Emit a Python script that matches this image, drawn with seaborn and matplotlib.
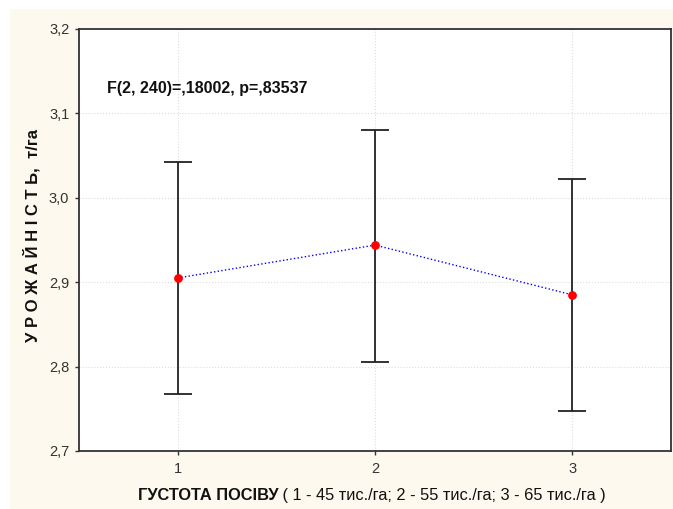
import matplotlib
matplotlib.use("Agg")
import matplotlib.pyplot as plt
from matplotlib.patches import Rectangle
from matplotlib.ticker import FuncFormatter, FixedLocator
import seaborn as sns
import pandas as pd

# Seeding density groups and yield statistics (mean with confidence limits)
density = [1, 2, 3]
mean_yield = [2.905, 2.944, 2.885]
ci_lower = [2.767, 2.805, 2.747]
ci_upper = [3.042, 3.080, 3.022]
y_ticks = [2.7, 2.8, 2.9, 3.0, 3.1, 3.2]
stat_text = "F(2, 240)=,18002, p=,83537"

df = pd.DataFrame({"density": density, "yield": mean_yield})

sns.set_theme(style="white")
plt.rcParams["font.family"] = ["Liberation Sans", "DejaVu Sans"]
narrow = ["Liberation Sans Narrow", "Liberation Sans", "DejaVu Sans"]

fig = plt.figure(figsize=(6.73, 5.09), dpi=100, facecolor="white")
fig.patches.append(Rectangle((10 / 673, 0), 1, (509 - 9) / 509, transform=fig.transFigure,
                             facecolor="#fdf9ee", edgecolor="none", zorder=-10))
ax = fig.add_axes([79 / 673, 58 / 509, 592 / 673, 422 / 509])
ax.set_facecolor("white")

# Confidence intervals
yerr = [[m - lo for m, lo in zip(mean_yield, ci_lower)],
        [hi - m for m, hi in zip(mean_yield, ci_upper)]]
ax.errorbar(density, mean_yield, yerr=yerr, fmt="none", ecolor="#222222",
            elinewidth=1.3, capsize=10, capthick=1.3, zorder=2)

# Means joined by a dotted line
sns.lineplot(data=df, x="density", y="yield", ax=ax, color="blue", linestyle=":",
             linewidth=1.0, zorder=3)
sns.scatterplot(data=df, x="density", y="yield", ax=ax, color="red", s=40,
                edgecolor="red", linewidth=0, zorder=4)

ax.set_xlim(0.5, 3.5)
ax.set_ylim(2.7, 3.2)
ax.xaxis.set_major_locator(FixedLocator(density))
ax.yaxis.set_major_locator(FixedLocator(y_ticks))
ax.xaxis.set_major_formatter(FuncFormatter(lambda v, p: f"{int(round(v))}"))
ax.yaxis.set_major_formatter(FuncFormatter(lambda v, p: f"{v:.1f}".replace(".", ",")))
ax.tick_params(axis="both", direction="out", length=3, width=1, color="#333333",
               labelsize=10.5, labelcolor="#333333", bottom=True, left=True)
ax.tick_params(axis="y", pad=4)
ax.tick_params(axis="x", pad=5)
ax.grid(True, color="#dddddd", linestyle=":", linewidth=0.8)
for sp in ax.spines.values():
    sp.set_color("#333333")
    sp.set_linewidth(1.3)

ax.text(0.64, 3.13, stat_text, fontsize=11.5, fontweight="bold", family=narrow,
        color="#111111", va="center", ha="left")

ax.set_xlabel("")
ax.set_ylabel("У Р О Ж А Й Н І С Т Ь,  т/га", fontsize=12, fontweight="bold",
              family=narrow, color="#111111")
ax.yaxis.set_label_coords(-39 / 592, 0.51)

# X-axis title: bold part followed by regular explanation
t1 = fig.text(138 / 673, 9 / 509, "ГУСТОТА ПОСІВУ", fontsize=11.8, fontweight="bold",
              family=narrow, color="#111111", va="baseline", ha="left")
ax.annotate(" ( 1 - 45 тис./га; 2 - 55 тис./га; 3 - 65 тис./га )", xy=(1, 0),
            xycoords=t1, va="bottom", ha="left", fontsize=11.8, family=narrow,
            color="#111111", annotation_clip=False)

fig.savefig("out.png", dpi=100, facecolor=fig.get_facecolor())
